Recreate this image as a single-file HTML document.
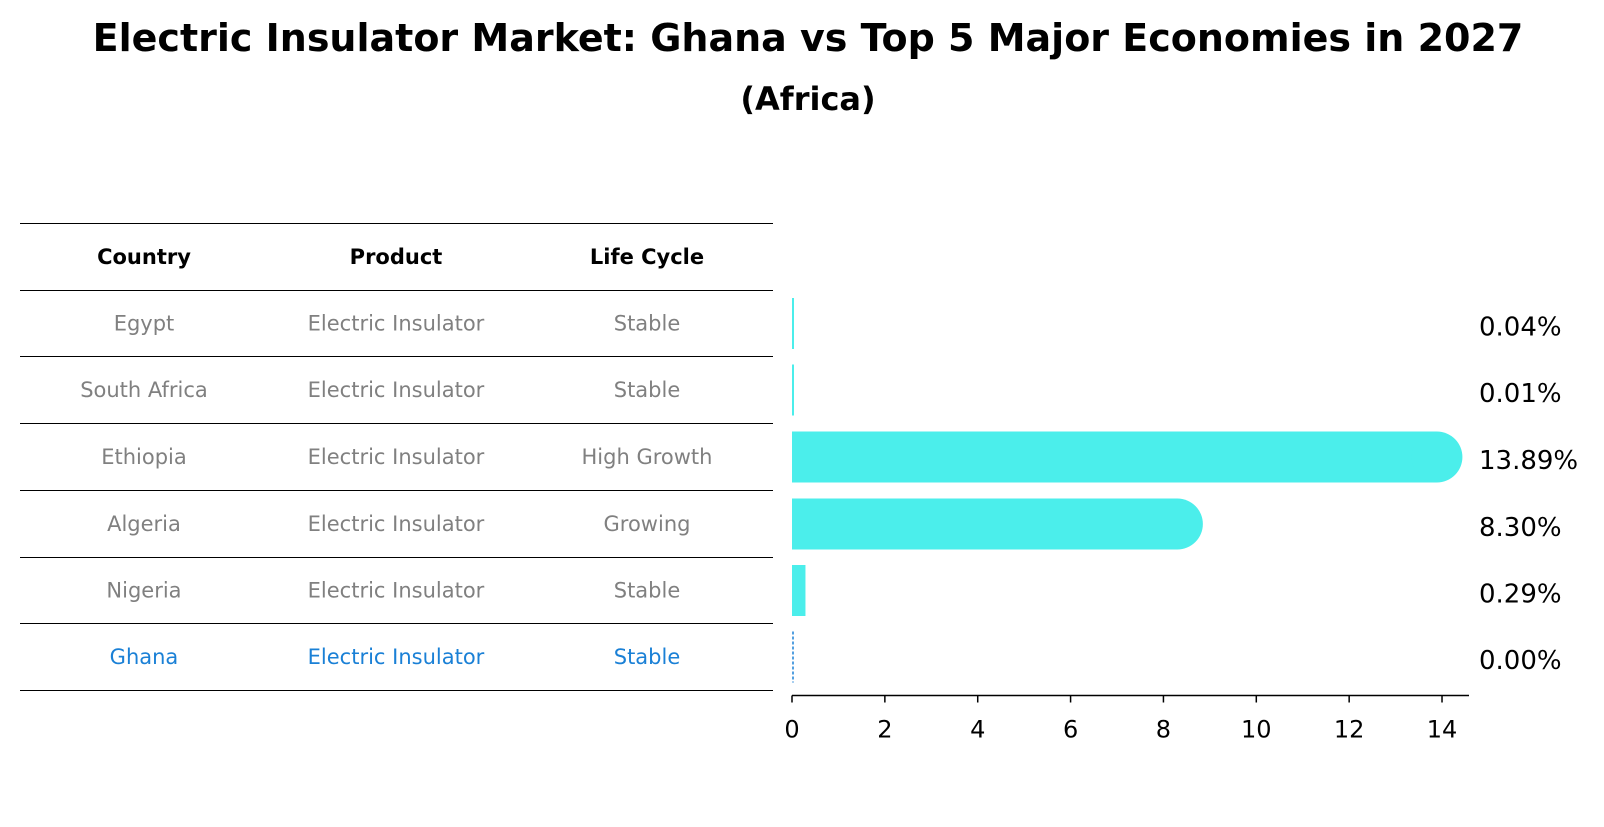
<!DOCTYPE html>
<html><head><meta charset="utf-8"><style>
body{margin:0;background:#fff;font-family:"DejaVu Sans","Liberation Sans",sans-serif;}
</style></head><body>
<svg width="1604" height="823" xmlns="http://www.w3.org/2000/svg" font-family="DejaVu Sans, Liberation Sans, sans-serif">
<text x="808" y="51" text-anchor="middle" font-size="38" font-weight="bold">Electric Insulator Market: Ghana vs Top 5 Major Economies in 2027</text>
<text x="808" y="110" text-anchor="middle" font-size="32" font-weight="bold">(Africa)</text>
<g id="table"></g>
<g id="bars"></g>
<g id="axis"></g>
</svg>
<script>
const countries=["Egypt","South Africa","Ethiopia","Algeria","Nigeria","Ghana"];
const products=["Electric Insulator","Electric Insulator","Electric Insulator","Electric Insulator","Electric Insulator","Electric Insulator"];
const lifeCycles=["Stable","Stable","High Growth","Growing","Stable","Stable"];
const values=[0.04,0.01,13.89,8.30,0.29,0.00];
const ticks=[0,2,4,6,8,10,12,14];
const NS="http://www.w3.org/2000/svg";
function mk(t,a,p){const e=document.createElementNS(NS,t);for(const k in a)e.setAttribute(k,a[k]);p.appendChild(e);return e;}
const x0=792,ppu=46.43,axisY=695.5;
const X=v=>x0+v*ppu;
const lines=[223.5,290.5,356.5,423.5,490.5,557.5,623.5,690.5];
const rowY=i=>(lines[i+1]+lines[i+2])/2;
const tbl=document.getElementById('table');
lines.forEach(y=>{const l=mk('line',{x1:20,x2:773,y1:y,y2:y,stroke:'#000','stroke-width':1,'shape-rendering':'crispEdges'},tbl);

});
const cx=[144,396,647];
["Country","Product","Life Cycle"].forEach((h,j)=>{const t=mk('text',{x:cx[j],y:(lines[0]+lines[1])/2+7,'text-anchor':'middle','font-size':21,'font-weight':'bold'},tbl);t.textContent=h;

});
countries.forEach((c,i)=>{const col=i===countries.length-1?'#1a80d6':'#808080';
[c,products[i],lifeCycles[i]].forEach((s,j)=>{const t=mk('text',{x:cx[j],y:rowY(i)+7,'text-anchor':'middle','font-size':21,fill:col},tbl);t.textContent=s;

});});
const bars=document.getElementById('bars');
const bh=51,r=25.5;
values.forEach((v,i)=>{const cy=rowY(i);
if(i===values.length-1){const l=mk('line',{x1:X(0)+1,x2:X(0)+1,y1:cy-bh/2,y2:cy+bh/2,stroke:'#1a80d6','stroke-width':1.5,'stroke-dasharray':'3,2'},bars);

}
else{const w=Math.max(v*ppu,2);const g=mk('g',{},bars);


mk('rect',{x:X(0),y:cy-bh/2,width:w,height:bh,fill:'#4beeeb'},g);
if(v>1)mk('circle',{cx:X(v),cy:cy,r:r,fill:'#4beeeb'},g);}
const t=mk('text',{x:1479,y:cy+12,'font-size':26},bars);t.textContent=v.toFixed(2)+'%';

});
const ax=document.getElementById('axis');
mk('line',{x1:X(0),x2:1469,y1:axisY,y2:axisY,stroke:'#000','stroke-width':1.5},ax);
ticks.forEach(tk=>{mk('line',{x1:X(tk),x2:X(tk),y1:axisY,y2:axisY+7,stroke:'#000','stroke-width':1.5},ax);
const t=mk('text',{x:X(tk),y:axisY+42,'text-anchor':'middle','font-size':24},ax);t.textContent=tk;

});
</script>
</body></html>
